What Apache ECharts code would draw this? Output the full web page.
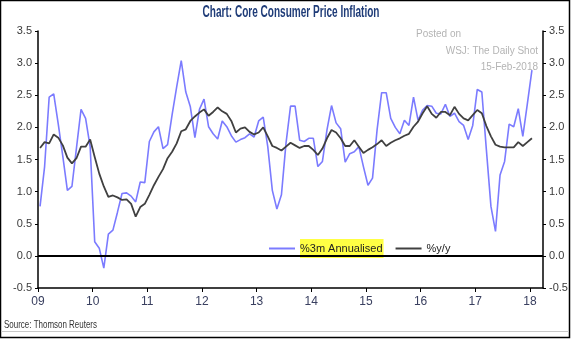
<!DOCTYPE html>
<html><head><meta charset="utf-8">
<script src="https://cdn.jsdelivr.net/npm/echarts@6/dist/echarts.min.js"></script>
<style>html,body{margin:0;padding:0;background:#fff}#c{width:571px;height:339px}</style>
</head><body><div id="c"></div>
<script>
// Monthly data, Jan 2009 .. Jan 2018
const startYear = 2009;
const annualised3m = [0.77,1.39,2.47,2.52,2.05,1.55,1.02,1.08,1.68,2.28,2.14,1.70,
0.22,0.12,-0.19,0.34,0.40,0.68,0.97,0.98,0.93,0.84,1.15,1.14,
1.78,1.93,2.01,1.67,1.73,2.20,2.63,3.04,2.55,2.32,1.84,2.28,
2.44,2.01,1.90,1.82,2.10,2.01,1.87,1.77,1.81,1.84,1.90,1.85,
2.10,2.16,1.70,1.02,0.73,0.95,1.75,2.33,2.33,1.80,1.78,1.83,
1.83,1.39,1.47,1.96,2.34,2.07,1.98,1.46,1.59,1.62,1.70,1.39,
1.10,1.21,1.96,2.54,2.54,2.14,2.00,1.90,2.11,2.03,2.47,2.11,
2.27,2.34,2.33,2.22,2.21,2.36,2.17,2.22,2.09,2.03,1.81,2.03,
2.59,2.55,1.65,0.77,0.38,1.26,1.47,2.05,2.01,2.29,1.86,2.37,
2.89];
const yoy = [1.68,1.77,1.75,1.89,1.84,1.72,1.53,1.44,1.52,1.70,1.70,1.81,
1.54,1.28,1.08,0.92,0.94,0.91,0.87,0.88,0.81,0.61,0.76,0.81,
0.95,1.10,1.23,1.35,1.52,1.62,1.75,1.94,1.97,2.10,2.17,2.23,
2.28,2.18,2.24,2.31,2.25,2.21,2.10,1.92,1.98,2.00,1.93,1.89,
1.92,2.00,1.86,1.71,1.68,1.64,1.70,1.76,1.72,1.68,1.71,1.71,
1.65,1.57,1.67,1.83,1.96,1.92,1.83,1.71,1.71,1.80,1.70,1.60,
1.65,1.69,1.74,1.80,1.71,1.76,1.80,1.83,1.87,1.90,2.01,2.09,
2.22,2.33,2.21,2.15,2.24,2.24,2.19,2.32,2.21,2.14,2.11,2.19,
2.27,2.22,2.02,1.86,1.73,1.70,1.69,1.69,1.69,1.77,1.71,1.77,
1.83];
const yearTicks = [2009,2010,2011,2012,2013,2014,2015,2016,2017,2018];
const titleText = 'Chart: Core Consumer Price Inflation';
const sourceText = 'Source: Thomson Reuters';
const seriesNames = ['%3m Annualised', '%y/y'];

const months = annualised3m.map((_, i) => startYear + (i + 0.45) / 12);
const s1 = months.map((x, i) => [x, annualised3m[i]]);
const s2 = months.map((x, i) => [x, yoy[i]]);

const FONT = "'Liberation Sans',Arial,sans-serif";
const mctx = document.createElement('canvas').getContext('2d');
function fitScale(text, font, target) { mctx.font = font; return target / mctx.measureText(text).width; }
const titleFont = 'bold 16px ' + FONT;
const srcFont = '11px ' + FONT;

const chart = echarts.init(document.getElementById('c'), null, {renderer: 'canvas'});
const yAxisBase = {
  type: 'value', min: -0.5, max: 3.5, interval: 0.5,
  axisLine: {show: true, lineStyle: {color: '#000', width: 1.5}},
  axisTick: {show: true, inside: false, length: 3, lineStyle: {color: '#000', width: 1}},
  splitLine: {show: false},
  axisLabel: {color: '#3a3a3a', fontFamily: FONT, fontSize: 11, margin: 6,
    formatter: v => v.toFixed(1)}
};
chart.setOption({
  animation: false,
  backgroundColor: '#fff',
  grid: {left: 38, right: 28, top: 31, bottom: 51, containLabel: false},
  legend: {
    left: 264, top: 234, itemGap: 12, itemWidth: 26, itemHeight: 2,
    icon: 'rect',
    data: seriesNames,
    textStyle: {fontFamily: FONT, fontSize: 11, color: '#222',
      rich: {hl: {backgroundColor: '#ffff44', padding: [4, 1, 4, 0], fontFamily: FONT, fontSize: 11, color: '#222'}}},
    formatter: n => n === seriesNames[0] ? '{hl|' + n + '}' : n
  },
  xAxis: {
    type: 'value', min: 2009, max: 2018.24,
    axisLine: {show: true, onZero: false, lineStyle: {color: '#000', width: 1.5}},
    axisTick: {show: true, length: 4, customValues: yearTicks, lineStyle: {color: '#000'}},
    splitLine: {show: false},
    axisLabel: {customValues: yearTicks, color: '#3a4060', fontFamily: FONT, fontSize: 12, margin: 8,
      formatter: v => String(Math.round(v) % 100).padStart(2, '0')}
  },
  yAxis: [
    Object.assign({}, yAxisBase, {position: 'left'}),
    Object.assign({}, yAxisBase, {position: 'right'})
  ],
  series: [
    {name: seriesNames[0], type: 'line', data: s1, showSymbol: false, symbol: 'none',
      lineStyle: {color: '#7b7bff', width: 1.6}, itemStyle: {color: '#7b7bff'}, z: 2,
      markLine: {silent: true, symbol: 'none', label: {show: false},
        lineStyle: {color: '#000', width: 2, type: 'solid'}, data: [{yAxis: 0}]}},
    {name: seriesNames[1], type: 'line', data: s2, showSymbol: false, symbol: 'none',
      lineStyle: {color: '#404040', width: 1.8}, itemStyle: {color: '#404040'}, z: 3}
  ],
  graphic: [
    {type: 'rect', shape: {x: 0.5, y: 0.5, width: 569, height: 337}, style: {fill: 'none', stroke: '#000', lineWidth: 1.5}, silent: true},
    {type: 'line', shape: {x1: 1, y1: 331.5, x2: 569, y2: 331.5}, style: {stroke: '#c8c8c8', lineWidth: 1}, silent: true},
    {type: 'text', x: 291, y: 5, scaleX: fitScale(titleText, titleFont, 177),
      style: {text: titleText, fill: '#1f3c78', font: titleFont, align: 'center', verticalAlign: 'top'}},
    {type: 'text', x: 4, y: 319, scaleX: fitScale(sourceText, srcFont, 93),
      style: {text: sourceText, fill: '#333', font: srcFont, align: 'left', verticalAlign: 'top'}},
    {type: 'text', left: 416, top: 29, style: {text: 'Posted on', fill: '#b4b4b4', font: '10px ' + FONT}},
    {type: 'text', right: 33, top: 46, style: {text: 'WSJ: The Daily Shot', fill: '#b4b4b4', font: '10px ' + FONT, align: 'right'}},
    {type: 'text', right: 33, top: 62, style: {text: '15-Feb-2018', fill: '#b4b4b4', font: '10px ' + FONT, align: 'right'}}
  ]
});
</script></body></html>
